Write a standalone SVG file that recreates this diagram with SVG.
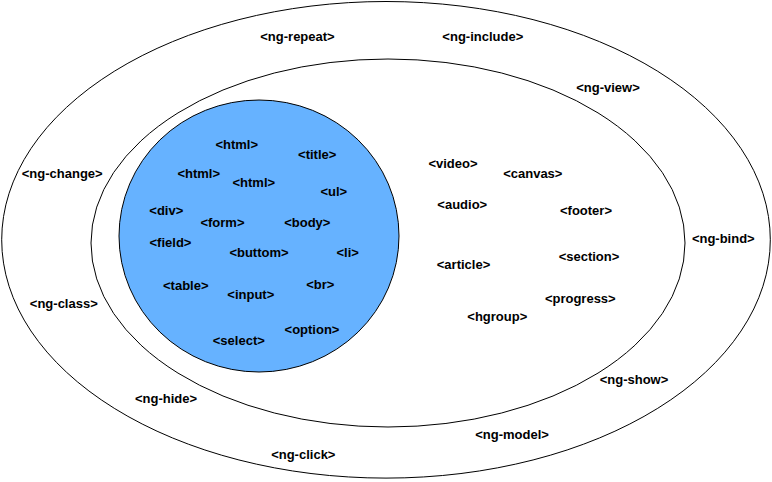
<svg xmlns="http://www.w3.org/2000/svg" width="772" height="482" viewBox="0 0 772 482">
<style>
.ring{fill:#ffffff;stroke:#000000;stroke-width:1}
.core{fill:#66b2ff;stroke:#000000;stroke-width:1}
text{font-family:"Liberation Sans",Arial,Helvetica,sans-serif;font-size:13px;font-weight:bold;fill:#000000;text-anchor:middle}
</style>
<rect width="772" height="482" fill="#ffffff"/>
<g id="outer">
<ellipse class="ring" cx="386" cy="239.8" rx="384.3" ry="238.3"/>
<text x="297.5" y="41.2">&lt;ng-repeat&gt;</text>
<text x="482.8" y="41.2">&lt;ng-include&gt;</text>
<text x="62.2" y="177.8">&lt;ng-change&gt;</text>
<text x="723.3" y="243">&lt;ng-bind&gt;</text>
<text x="63.8" y="307.8">&lt;ng-class&gt;</text>
<text x="634" y="383.8">&lt;ng-show&gt;</text>
<text x="166" y="402.8">&lt;ng-hide&gt;</text>
<text x="512" y="439.3">&lt;ng-model&gt;</text>
<text x="303.3" y="458.5">&lt;ng-click&gt;</text>
</g>
<g id="middle">
<ellipse class="ring" cx="388" cy="243" rx="297" ry="184"/>
<text x="608" y="91.8">&lt;ng-view&gt;</text>
<text x="453" y="167.8">&lt;video&gt;</text>
<text x="532.8" y="177.8">&lt;canvas&gt;</text>
<text x="462.3" y="208.8">&lt;audio&gt;</text>
<text x="586" y="214.5">&lt;footer&gt;</text>
<text x="589" y="261.2">&lt;section&gt;</text>
<text x="463.5" y="268.8">&lt;article&gt;</text>
<text x="580.3" y="302.8">&lt;progress&gt;</text>
<text x="497.3" y="320.5">&lt;hgroup&gt;</text>
</g>
<g id="inner">
<ellipse class="core" cx="259" cy="236" rx="140" ry="136"/>
<text x="236.7" y="148.8">&lt;html&gt;</text>
<text x="317.2" y="158.5">&lt;title&gt;</text>
<text x="198.7" y="177.5">&lt;html&gt;</text>
<text x="253.8" y="186.5">&lt;html&gt;</text>
<text x="333.8" y="195.5">&lt;ul&gt;</text>
<text x="166.3" y="214.5">&lt;div&gt;</text>
<text x="222.5" y="227.2">&lt;form&gt;</text>
<text x="307.3" y="227.2">&lt;body&gt;</text>
<text x="170.5" y="247.2">&lt;field&gt;</text>
<text x="259" y="256.8">&lt;buttom&gt;</text>
<text x="347.7" y="256.8">&lt;li&gt;</text>
<text x="185.8" y="289.5">&lt;table&gt;</text>
<text x="320.3" y="288.5">&lt;br&gt;</text>
<text x="250.8" y="298.5">&lt;input&gt;</text>
<text x="312" y="333.5">&lt;option&gt;</text>
<text x="238.8" y="345.2">&lt;select&gt;</text>
</g>
<g id="connectors"></g>
</svg>
